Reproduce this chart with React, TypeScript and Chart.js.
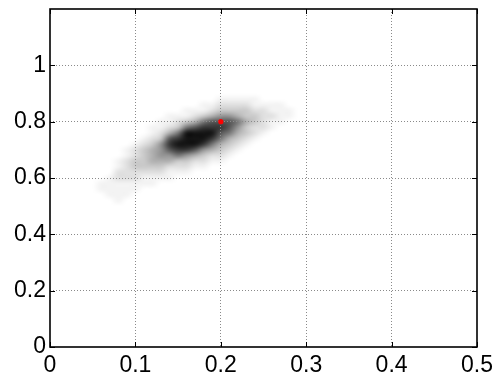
import React, { useEffect, useRef } from "react";
import { Chart, registerables } from "chart.js";

Chart.register(...registerables);

// ---- data ----
const xTicks = [0, 0.1, 0.2, 0.3, 0.4, 0.5];
const yTicks = [0, 0.2, 0.4, 0.6, 0.8, 1];
const xRange = [0, 0.5];
const yRange = [0, 1.2];

const markerX = [0.2];
const markerY = [0.8];

// density grid: column centres (x) and row centres (y, top to bottom)
const densityX = [
  0.05, 0.06, 0.07, 0.08, 0.09, 0.1, 0.11, 0.12, 0.13, 0.14, 0.15, 0.16, 0.17,
  0.18, 0.19, 0.2, 0.21, 0.22, 0.23, 0.24, 0.25, 0.26, 0.27, 0.28, 0.29,
];
const densityY = [
  0.9, 0.88, 0.86, 0.84, 0.82, 0.8, 0.78, 0.76, 0.74, 0.72, 0.7, 0.68, 0.66,
  0.64, 0.62, 0.6, 0.58, 0.56, 0.54, 0.52, 0.5,
];
// darkness levels 0..9, one list per column (top row first)
const densityLevels = [
  [0, 0, 0, 0, 0, 0, 0, 0, 0, 0, 0, 0, 0, 0, 0, 0, 0, 0, 0, 0, 0],
  [0, 0, 0, 0, 0, 0, 0, 0, 0, 0, 0, 0, 0, 0, 0, 0, 1, 1, 0, 0, 0],
  [0, 0, 0, 0, 0, 0, 0, 0, 0, 0, 0, 0, 0, 0, 0, 1, 1, 1, 1, 0, 0],
  [0, 0, 0, 0, 0, 0, 0, 0, 0, 0, 0, 0, 1, 1, 2, 2, 1, 1, 1, 1, 0],
  [0, 0, 0, 0, 0, 0, 0, 0, 0, 0, 1, 1, 2, 2, 2, 2, 1, 1, 1, 0, 0],
  [0, 0, 0, 0, 0, 0, 0, 0, 0, 1, 2, 2, 3, 3, 2, 2, 1, 1, 0, 0, 0],
  [0, 0, 0, 0, 0, 0, 0, 0, 1, 2, 3, 3, 3, 3, 2, 1, 1, 0, 0, 0, 0],
  [0, 0, 0, 0, 0, 0, 1, 1, 2, 3, 4, 4, 4, 3, 2, 1, 1, 0, 0, 0, 0],
  [0, 0, 0, 0, 0, 1, 1, 2, 3, 5, 5, 5, 4, 3, 2, 1, 0, 0, 0, 0, 0],
  [0, 0, 0, 0, 1, 1, 2, 4, 7, 8, 7, 5, 4, 2, 1, 1, 0, 0, 0, 0, 0],
  [0, 0, 0, 0, 1, 2, 3, 6, 8, 9, 8, 6, 3, 2, 1, 0, 0, 0, 0, 0, 0],
  [0, 0, 0, 1, 1, 3, 6, 9, 9, 9, 8, 5, 3, 2, 1, 0, 0, 0, 0, 0, 0],
  [0, 0, 0, 1, 2, 4, 7, 9, 9, 9, 7, 4, 2, 1, 0, 0, 0, 0, 0, 0, 0],
  [0, 0, 1, 1, 3, 6, 8, 9, 9, 8, 5, 3, 2, 1, 0, 0, 0, 0, 0, 0, 0],
  [0, 0, 1, 2, 4, 7, 8, 9, 8, 6, 4, 2, 1, 0, 0, 0, 0, 0, 0, 0, 0],
  [0, 1, 2, 3, 5, 7, 8, 7, 6, 4, 3, 2, 1, 0, 0, 0, 0, 0, 0, 0, 0],
  [0, 1, 2, 3, 5, 7, 7, 6, 4, 3, 2, 1, 0, 0, 0, 0, 0, 0, 0, 0, 0],
  [0, 1, 2, 3, 4, 6, 5, 4, 3, 2, 1, 0, 0, 0, 0, 0, 0, 0, 0, 0, 0],
  [0, 1, 2, 3, 3, 4, 3, 3, 2, 1, 0, 0, 0, 0, 0, 0, 0, 0, 0, 0, 0],
  [0, 1, 1, 2, 3, 3, 2, 2, 1, 0, 0, 0, 0, 0, 0, 0, 0, 0, 0, 0, 0],
  [0, 0, 1, 2, 2, 2, 2, 1, 0, 0, 0, 0, 0, 0, 0, 0, 0, 0, 0, 0, 0],
  [0, 0, 1, 1, 2, 1, 1, 0, 0, 0, 0, 0, 0, 0, 0, 0, 0, 0, 0, 0, 0],
  [0, 0, 1, 1, 1, 1, 0, 0, 0, 0, 0, 0, 0, 0, 0, 0, 0, 0, 0, 0, 0],
  [0, 0, 0, 1, 1, 0, 0, 0, 0, 0, 0, 0, 0, 0, 0, 0, 0, 0, 0, 0, 0],
  [0, 0, 0, 0, 0, 0, 0, 0, 0, 0, 0, 0, 0, 0, 0, 0, 0, 0, 0, 0, 0],
];

// ---- layout constants ----
const W = 501;
const H = 380;
const FONT = "'Liberation Sans', Arial, Helvetica, sans-serif";

const fmt = (v: number) => String(parseFloat(Number(v).toFixed(2)));

const densityPlugin = {
  id: "density",
  beforeDraw(chart: any) {
    const { ctx, chartArea } = chart;
    const xs = chart.scales.x;
    const ys = chart.scales.y;
    const cols = densityX.length;
    const rows = densityY.length;
    const off = document.createElement("canvas");
    off.width = cols;
    off.height = rows;
    const octx = off.getContext("2d")!;
    const img = octx.createImageData(cols, rows);
    for (let c = 0; c < cols; c++) {
      for (let r = 0; r < rows; r++) {
        const lvl = densityLevels[c][r];
        const a = Math.pow(lvl / 9, 1.35) * 0.92;
        const i = (r * cols + c) * 4;
        img.data[i] = 0;
        img.data[i + 1] = 0;
        img.data[i + 2] = 0;
        img.data[i + 3] = Math.round(a * 255);
      }
    }
    octx.putImageData(img, 0, 0);
    const dx = densityX[1] - densityX[0];
    const dy = densityY[0] - densityY[1];
    const left = xs.getPixelForValue(densityX[0] - dx / 2);
    const right = xs.getPixelForValue(densityX[cols - 1] + dx / 2);
    const top = ys.getPixelForValue(densityY[0] + dy / 2);
    const bottom = ys.getPixelForValue(densityY[rows - 1] - dy / 2);
    ctx.save();
    ctx.beginPath();
    ctx.rect(chartArea.left, chartArea.top, chartArea.right - chartArea.left, chartArea.bottom - chartArea.top);
    ctx.clip();
    ctx.imageSmoothingEnabled = true;
    (ctx as any).imageSmoothingQuality = "high";
    ctx.drawImage(off, left, top, right - left, bottom - top);
    ctx.restore();
  },
};

const framePlugin = {
  id: "frame",
  afterDraw(chart: any) {
    const { ctx, chartArea } = chart;
    const xs = chart.scales.x;
    const ys = chart.scales.y;
    const { left, right, top, bottom } = chartArea;
    ctx.save();
    ctx.strokeStyle = "#000";
    ctx.lineWidth = 1;
    const tl = 5;
    ctx.beginPath();
    xTicks.forEach((v) => {
      const px = Math.round(xs.getPixelForValue(v)) + 0.5;
      ctx.moveTo(px, bottom);
      ctx.lineTo(px, bottom - tl);
      ctx.moveTo(px, top);
      ctx.lineTo(px, top + tl);
    });
    yTicks.forEach((v) => {
      const py = Math.round(ys.getPixelForValue(v)) + 0.5;
      ctx.moveTo(left, py);
      ctx.lineTo(left + tl, py);
      ctx.moveTo(right, py);
      ctx.lineTo(right - tl, py);
    });
    ctx.stroke();
    ctx.lineWidth = 1.6;
    ctx.strokeRect(left, top, right - left, bottom - top);
    ctx.restore();
  },
};

export default function App() {
  const ref = useRef<HTMLCanvasElement | null>(null);

  useEffect(() => {
    if (!ref.current) return;
    const gridColor = (edgeVals: number[]) => (c: any) => {
      const v = c.tick ? c.tick.value : NaN;
      return edgeVals.some((e) => Math.abs(e - v) < 1e-9) ? "rgba(0,0,0,0)" : "#8a8a8a";
    };
    const chart = new Chart(ref.current, {
      type: "scatter",
      data: {
        datasets: [
          {
            data: markerX.map((x, i) => ({ x, y: markerY[i] })),
            pointRadius: 2.6,
            pointHoverRadius: 2.6,
            backgroundColor: "#ff0000",
            borderColor: "#ff0000",
            borderWidth: 0,
          },
        ],
      },
      options: {
        responsive: false,
        animation: false,
        devicePixelRatio: 1,
        events: [],
        layout: { padding: { top: 9, right: 24, left: 0, bottom: 0 } },
        plugins: { legend: { display: false }, tooltip: { enabled: false } },
        scales: {
          x: {
            type: "linear",
            min: xRange[0],
            max: xRange[1],
            afterBuildTicks: (s: any) => {
              s.ticks = xTicks.map((v) => ({ value: v }));
            },
            afterFit: (s: any) => {
              s.height = H - 347;
              s.paddingLeft = 0;
              s.paddingRight = 0;
            },
            grid: { drawTicks: false, color: gridColor([xRange[0], xRange[1]]), lineWidth: 1 },
            border: { display: false, dash: [1, 2] },
            ticks: {
              padding: 5,
              color: "#000",
              maxRotation: 0,
              autoSkip: false,
              font: { family: FONT, size: 23 },
              callback: (v: any) => fmt(v),
            },
          },
          y: {
            type: "linear",
            min: yRange[0],
            max: yRange[1],
            afterBuildTicks: (s: any) => {
              s.ticks = yTicks.map((v) => ({ value: v }));
            },
            afterFit: (s: any) => {
              s.width = 50;
              s.paddingTop = 0;
              s.paddingBottom = 0;
            },
            grid: { drawTicks: false, color: gridColor([yRange[0], yRange[1]]), lineWidth: 1 },
            border: { display: false, dash: [1, 2] },
            ticks: {
              padding: 4,
              color: "#000",
              autoSkip: false,
              font: { family: FONT, size: 23 },
              callback: (v: any) => fmt(v),
            },
          },
        },
      },
      plugins: [densityPlugin, framePlugin],
    } as any);
    return () => chart.destroy();
  }, []);

  return (
    <div
      style={{
        position: "fixed",
        left: 0,
        top: 0,
        width: W,
        height: 372,
        overflow: "hidden",
        background: "#fff",
      }}
    >
      <canvas ref={ref} width={W} height={H} style={{ display: "block", width: W, height: H }} />
    </div>
  );
}
